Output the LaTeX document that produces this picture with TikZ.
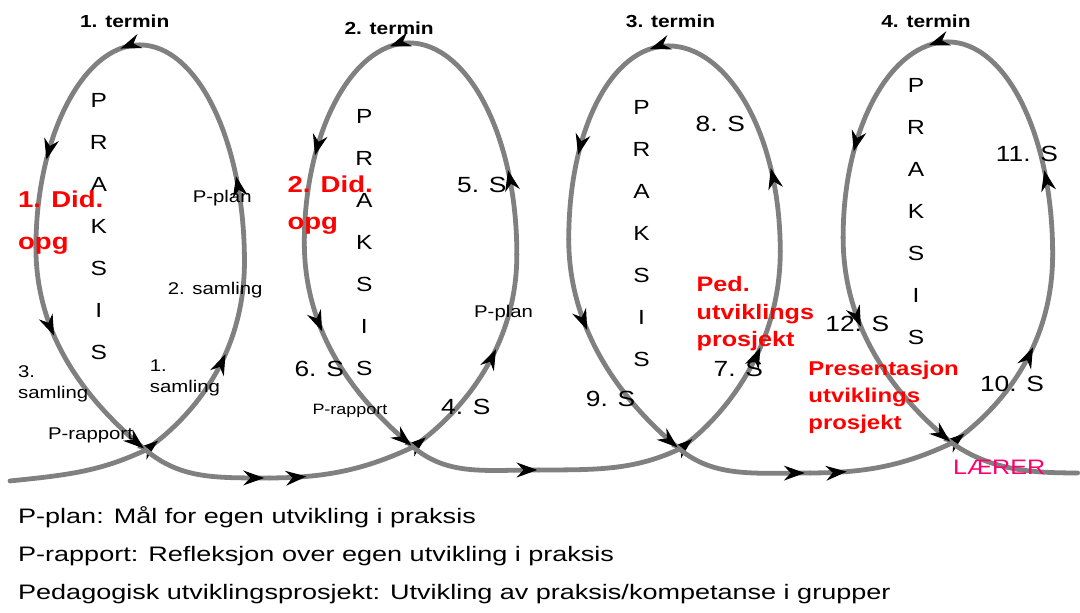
\documentclass[tikz,border=0pt]{standalone}
\usepackage{fontspec}
\setmainfont{Liberation Sans}[FakeStretch=1.2]
\newfontfamily\legendfont{Liberation Sans}[FakeStretch=1.29]
\usetikzlibrary{arrows.meta, decorations.markings, positioning}
\definecolor{loopgray}{RGB}{128,128,128}
\definecolor{laerer}{RGB}{255,0,110}
\tikzstyle{spiral} = [draw=loopgray, line width=4.8pt, line cap=round]
\tikzstyle{termin} = [inner sep=0pt, font=\bfseries\fontsize{17.5}{20}\selectfont]
\tikzstyle{praksis} = [inner sep=0pt, align=center, font=\fontsize{20.5}{42}\selectfont]
\tikzstyle{lbl} = [inner sep=0pt, anchor=base west, font=\fontsize{17}{21.5}\selectfont]
\tikzstyle{snum} = [inner sep=0pt, anchor=base west, font=\fontsize{22}{26}\selectfont]
\tikzstyle{oppgave} = [inner sep=0pt, anchor=north west, align=left, text=red, font=\bfseries\fontsize{23}{42}\selectfont]
\tikzstyle{prosjekt} = [inner sep=0pt, anchor=north west, align=left, text=red, font=\bfseries\fontsize{21}{27.5}\selectfont]
\tikzstyle{legendline} = [inner sep=0pt, anchor=base west, font=\legendfont\fontsize{21}{24}\selectfont]
\tikzset{midarrow/.style={postaction={decorate, decoration={markings, mark=at position #1 with {\arrow[black, line width=1pt]{Stealth[length=21pt, width=15pt, inset=7pt]}}}}}}

\begin{document}
\begin{tikzpicture}[x=1pt, y=-1pt]
	\fill[white] (0,0) rectangle (1080,614);

	% spiral points
	\coordinate (start) at (10,482);
	\coordinate (c1) at (146,451);
	\coordinate (r1) at (245,262);
	\coordinate (t1) at (140,45);
	\coordinate (l1) at (36,248);
	\coordinate (b1) at (270,479);
	\coordinate (c2) at (414,448);
	\coordinate (r2) at (518,255);
	\coordinate (t2) at (410,43);
	\coordinate (l2) at (305,243);
	\coordinate (b2) at (540,471);
	\coordinate (c3) at (681,450);
	\coordinate (r3) at (782,252);
	\coordinate (t3) at (670,46);
	\coordinate (l3) at (570,240);
	\coordinate (b3) at (812,474);
	\coordinate (c4) at (954,444);
	\coordinate (r4) at (1055,255);
	\coordinate (t4) at (950,42);
	\coordinate (l4) at (845,238);
	\coordinate (finish) at (1080,474);

	% 1. termin
	\draw[spiral] (start) .. controls +(60,-6) and +(-45,21) .. (c1);
	\draw[spiral, midarrow=0.07, midarrow=0.57] (c1) .. controls +(41,-29) and +(0,100) .. (r1);
	\draw[spiral, midarrow=0.33] (r1) .. controls +(0,-120) and +(58,0) .. (t1);
	\draw[spiral, midarrow=0.08, midarrow=0.64] (t1) .. controls +(-56,0) and +(0,-112) .. (l1);
	\draw[spiral, midarrow=0.38, midarrow=0.99] (l1) .. controls +(0,80) and +(-70,-58) .. (c1);
	\draw[spiral, midarrow=0.96] (c1) .. controls +(35,29) and +(-55,0) .. (b1);
	\draw[spiral, midarrow=0.25] (b1) .. controls +(60,0) and +(-45,21) .. (c2);

	% 2. termin
	\draw[spiral, midarrow=0.07, midarrow=0.57] (c2) .. controls +(41,-29) and +(0,100) .. (r2);
	\draw[spiral, midarrow=0.33] (r2) .. controls +(0,-120) and +(58,0) .. (t2);
	\draw[spiral, midarrow=0.08, midarrow=0.64] (t2) .. controls +(-56,0) and +(0,-112) .. (l2);
	\draw[spiral, midarrow=0.38, midarrow=0.99] (l2) .. controls +(0,80) and +(-70,-58) .. (c2);
	\draw[spiral, midarrow=0.99] (c2) .. controls +(35,29) and +(-55,0) .. (b2);
	\draw[spiral] (b2) .. controls +(60,0) and +(-45,21) .. (c3);

	% 3. termin
	\draw[spiral, midarrow=0.07, midarrow=0.57] (c3) .. controls +(41,-29) and +(0,100) .. (r3);
	\draw[spiral, midarrow=0.33] (r3) .. controls +(0,-120) and +(58,0) .. (t3);
	\draw[spiral, midarrow=0.08, midarrow=0.64] (t3) .. controls +(-56,0) and +(0,-112) .. (l3);
	\draw[spiral, midarrow=0.38, midarrow=0.99] (l3) .. controls +(0,80) and +(-70,-58) .. (c3);
	\draw[spiral, midarrow=0.96] (c3) .. controls +(35,29) and +(-55,0) .. (b3);
	\draw[spiral, midarrow=0.25] (b3) .. controls +(60,0) and +(-45,21) .. (c4);

	% 4. termin
	\draw[spiral, midarrow=0.07, midarrow=0.57] (c4) .. controls +(41,-29) and +(0,100) .. (r4);
	\draw[spiral, midarrow=0.33] (r4) .. controls +(0,-120) and +(58,0) .. (t4);
	\draw[spiral, midarrow=0.08, midarrow=0.64] (t4) .. controls +(-56,0) and +(0,-112) .. (l4);
	\draw[spiral, midarrow=0.38, midarrow=0.99] (l4) .. controls +(0,80) and +(-70,-58) .. (c4);
	\draw[spiral] (c4) .. controls +(40,28) and +(-45,0) .. (finish);

	% Labels
	\node(term1)[termin] at (125,21) {1. termin};
	\node(term2)[termin] at (390,28) {2. termin};
	\node(term3)[termin] at (672,21) {3. termin};
	\node(term4)[termin] at (928,21) {4. termin};

	\node(praks1)[praksis] at (99,227) {P\\R\\A\\K\\S\\I\\S};
	\node(praks2)[praksis] at (365,243) {P\\R\\A\\K\\S\\I\\S};
	\node(praks3)[praksis] at (643,234) {P\\R\\A\\K\\S\\I\\S};
	\node(praks4)[praksis] at (918,212) {P\\R\\A\\K\\S\\I\\S};

	\node(did1)[oppgave] at (18,191) {1. Did.\\opg};
	\node(did2)[oppgave, font=\bfseries\fontsize{23}{37}\selectfont] at (288,176) {2. Did.\\opg};
	\node(ped)[prosjekt] at (698,277) {Ped.\\utviklings\\prosjekt};
	\node(pres)[prosjekt, font=\bfseries\fontsize{20}{27}\selectfont] at (810,362) {Presentasjon\\utviklings\\prosjekt};

	\node(pplan1)[lbl] at (193,203) {P-plan};
	\node(saml2)[lbl] at (168,295) {2. samling};
	\node(saml1)[lbl, anchor=north west, align=left] at (150,360) {1.\\samling};
	\node(saml3)[lbl, anchor=north west, align=left] at (18,366) {3.\\samling};
	\node(prap1)[lbl] at (48,440) {P-rapport};
	\node(pplan2)[lbl] at (475,318) {P-plan};
	\node(prap2)[lbl, font=\fontsize{15}{18}\selectfont] at (313,415) {P-rapport};

	\node(s4)[snum] at (442,415) {4. S};
	\node(s5)[snum] at (458,193) {5. S};
	\node(s6)[snum] at (295,377) {6. S};
	\node(s7)[snum] at (715,377) {7. S};
	\node(s8)[snum] at (697,132) {8. S};
	\node(s9)[snum] at (587,407) {9. S};
	\node(s10)[snum] at (982,392) {10. S};
	\node(s11)[snum] at (998,162) {11. S};
	\node(s12)[snum] at (827,332) {12. S};

	\node(laerer)[snum, font=\fontsize{21}{25}\selectfont, text=laerer] at (955,476) {LÆRER};

	% Legend
	\node(leg1)[legendline] at (18,525) {P-plan: Mål for egen utvikling i praksis};
	\node(leg2)[legendline] at (18,563) {P-rapport: Refleksjon over egen utvikling i praksis};
	\node(leg3)[legendline] at (18,601) {Pedagogisk utviklingsprosjekt: Utvikling av praksis/kompetanse i grupper};
\end{tikzpicture}
\end{document}
